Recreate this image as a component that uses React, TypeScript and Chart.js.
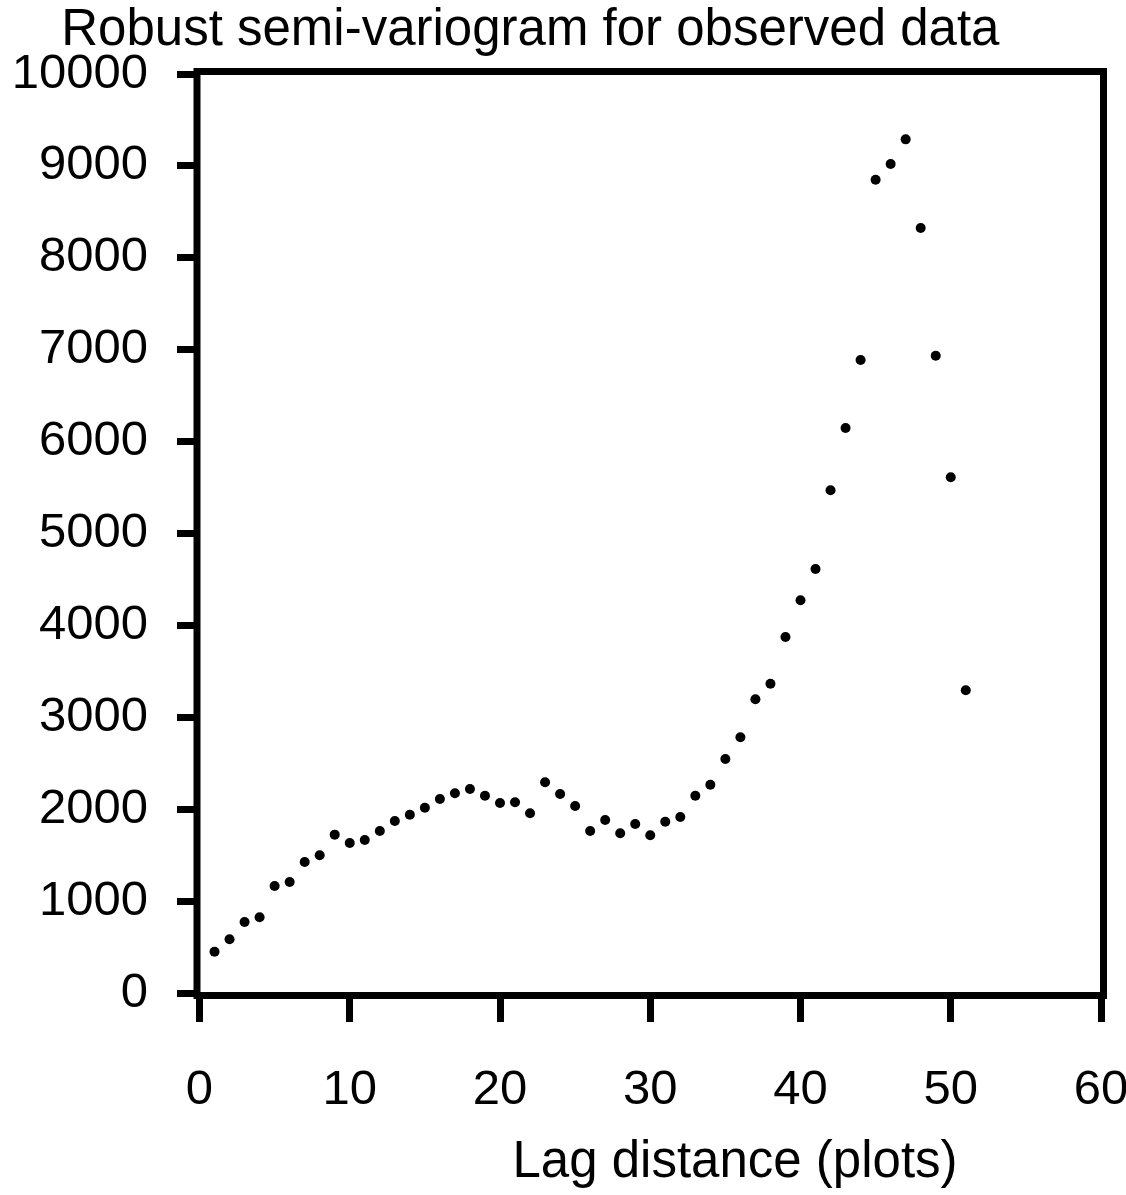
import React, { useEffect, useRef } from "react";
import { Chart, registerables } from "chart.js";

Chart.register(...registerables);

const chartTitle = "Robust semi-variogram for observed data";
const xAxisTitle = "Lag distance (plots)";

const lagDistance = [
  1, 2, 3, 4, 5, 6, 7, 8, 9, 10,
  11, 12, 13, 14, 15, 16, 17, 18, 19, 20,
  21, 22, 23, 24, 25, 26, 27, 28, 29, 30,
  31, 32, 33, 34, 35, 36, 37, 38, 39, 40,
  41, 42, 43, 44, 45, 46, 47, 48, 49, 50,
  51,
];

const semiVariance = [
  449, 584, 773, 824, 1164, 1208, 1425, 1498, 1723, 1632,
  1665, 1763, 1872, 1940, 2016, 2111, 2173, 2220, 2147, 2067,
  2075, 1955, 2293, 2165, 2035, 1763, 1882, 1738, 1839, 1716,
  1864, 1915, 2147, 2267, 2546, 2782, 3196, 3366, 3874, 4273,
  4613, 5470, 6148, 6888, 8850, 9021, 9289, 8324, 6935, 5612,
  3294,
];

const xTicks = [0, 10, 20, 30, 40, 50, 60];
const yTicks = [0, 1000, 2000, 3000, 4000, 5000, 6000, 7000, 8000, 9000, 10000];

const FONT_FAMILY = "'Liberation Sans', Arial, sans-serif";
const W = 1126;
const H = 1195;

export default function App() {
  const canvasRef = useRef<HTMLCanvasElement | null>(null);

  useEffect(() => {
    const canvas = canvasRef.current;
    if (!canvas) return;

    const framePlugin = {
      id: "framePlugin",
      afterDraw(chart: any) {
        const { ctx, chartArea } = chart;
        const off = 2.5;
        const w = chartArea.right - chartArea.left;
        ctx.save();
        ctx.strokeStyle = "#000";
        ctx.lineWidth = 7;
        ctx.strokeRect(
          chartArea.left - off,
          chartArea.top - off,
          w + 2 * off,
          chartArea.bottom - chartArea.top + 2 * off
        );
        ctx.fillStyle = "#000";
        ctx.textBaseline = "middle";
        ctx.textAlign = "center";
        ctx.font = `51px ${FONT_FAMILY}`;
        ctx.fillText(chartTitle, chartArea.left + w * 0.367, chartArea.top - 43);
        ctx.fillText(xAxisTitle, chartArea.left + w * 0.594, chartArea.bottom + 170);
        ctx.restore();
      },
    };

    const chart = new Chart(canvas, {
      type: "scatter",
      data: {
        datasets: [
          {
            data: lagDistance.map((x, i) => ({ x, y: semiVariance[i] })),
            pointRadius: 5,
            pointHoverRadius: 5,
            pointBackgroundColor: "#000",
            pointBorderWidth: 0,
            showLine: false,
          },
        ],
      },
      options: {
        responsive: false,
        animation: false,
        events: [],
        layout: {
          autoPadding: false,
          padding: { top: 74, right: 25, left: 0, bottom: 0 },
        },
        plugins: {
          legend: { display: false },
          title: { display: false },
          tooltip: { enabled: false },
        },
        scales: {
          x: {
            type: "linear",
            position: "bottom",
            min: 0,
            max: 60,
            afterBuildTicks: (scale: any) => {
              scale.ticks = xTicks.map((v) => ({ value: v }));
            },
            afterFit: (scale: any) => {
              scale.height = 202;
              scale.paddingLeft = 0;
              scale.paddingRight = 0;
              scale.paddingTop = 0;
              scale.paddingBottom = 0;
            },
            grid: {
              display: true,
              drawOnChartArea: false,
              drawTicks: true,
              tickLength: 29,
              tickWidth: 7,
              tickColor: "#000",
            },
            border: { display: false },
            ticks: {
              color: "#000",
              padding: 39,
              maxRotation: 0,
              autoSkip: false,
              font: { family: FONT_FAMILY, size: 49 },
              callback: (v: any) => String(v),
            },
          },
          y: {
            type: "linear",
            position: "left",
            min: 0,
            max: 10000,
            afterBuildTicks: (scale: any) => {
              scale.ticks = yTicks.map((v) => ({ value: v }));
            },
            afterFit: (scale: any) => {
              scale.width = 199.5;
              scale.paddingLeft = 0;
              scale.paddingRight = 0;
              scale.paddingTop = 0;
              scale.paddingBottom = 0;
            },
            grid: {
              display: true,
              drawOnChartArea: false,
              drawTicks: true,
              tickLength: 22.5,
              tickWidth: 7,
              tickColor: "#000",
            },
            border: { display: false },
            ticks: {
              color: "#000",
              padding: 29,
              autoSkip: false,
              font: { family: FONT_FAMILY, size: 49 },
              callback: (v: any) => String(v),
            },
          },
        },
      },
      plugins: [framePlugin],
    } as any);

    return () => chart.destroy();
  }, []);

  return (
    <div style={{ position: "absolute", left: 0, top: 0, width: W, height: H, background: "#fff" }}>
      <canvas ref={canvasRef} width={W} height={H} style={{ width: W, height: H, display: "block" }} />
    </div>
  );
}
